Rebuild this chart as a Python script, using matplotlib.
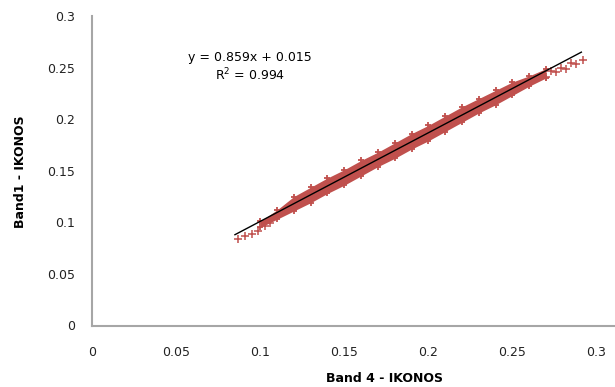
import numpy as np
import matplotlib
matplotlib.use('Agg')
import matplotlib.pyplot as plt

# band edges (Band 4 vs Band 1)
band_x = [0.100, 0.110, 0.120, 0.130, 0.140, 0.150, 0.160, 0.170, 0.180, 0.190,
          0.200, 0.210, 0.220, 0.230, 0.240, 0.250, 0.260, 0.270]
band_lo = [0.095, 0.103, 0.111, 0.119, 0.128, 0.136, 0.145, 0.154, 0.162, 0.171,
           0.179, 0.188, 0.197, 0.206, 0.214, 0.223, 0.232, 0.240]
band_hi = [0.101, 0.112, 0.125, 0.134, 0.143, 0.151, 0.160, 0.168, 0.177, 0.186,
           0.194, 0.203, 0.212, 0.220, 0.228, 0.236, 0.242, 0.249]

# isolated points at both ends
sparse_x = [0.087, 0.091, 0.095, 0.099, 0.103, 0.106, 0.270, 0.273, 0.276, 0.279,
            0.282, 0.285, 0.288, 0.292]
sparse_y = [0.084, 0.087, 0.089, 0.092, 0.096, 0.099, 0.241, 0.247, 0.246, 0.250,
            0.249, 0.254, 0.253, 0.257]

slope, intercept, r2 = 0.859, 0.015, 0.994
line_x = [0.085, 0.291]

red = '#c0504d'

fig = plt.figure(figsize=(6.15, 3.87), dpi=100)
ax = fig.add_axes([92 / 615, 61.5 / 387, 523 / 615, 309.5 / 387])

ax.fill_between(band_x, band_lo, band_hi, color=red, lw=0)
ax.scatter(band_x + band_x, band_lo + band_hi, marker='+', s=22, color=red, linewidths=1.3)
ax.scatter(sparse_x, sparse_y, marker='+', s=30, color=red, linewidths=1.1)
ax.plot(line_x, [slope * v + intercept for v in line_x], color='black', lw=1)

ax.text(0.094, 0.260, 'y = 0.859x + 0.015', ha='center', va='center', fontsize=9)
ax.text(0.094, 0.243, 'R$^2$ = 0.994', ha='center', va='center', fontsize=9)

ax.set_xlim(0, 0.311)
ax.set_ylim(0, 0.3)
ax.set_xticks([0, 0.05, 0.1, 0.15, 0.2, 0.25, 0.3])
ax.set_xticklabels(['0', '0.05', '0.1', '0.15', '0.2', '0.25', '0.3'])
ax.set_yticks([0, 0.05, 0.1, 0.15, 0.2, 0.25, 0.3])
ax.set_yticklabels(['0', '0.05', '0.1', '0.15', '0.2', '0.25', '0.3'])
ax.tick_params(length=0, labelsize=9, colors='#222222')
ax.tick_params(axis='y', pad=12)
ax.tick_params(axis='x', pad=15)
for s in ['top', 'right']:
    ax.spines[s].set_visible(False)
for s in ['left', 'bottom']:
    ax.spines[s].set_color('#a6a6a6')
    ax.spines[s].set_linewidth(1.5)

fig.text(384 / 615, 1 - 378 / 387, 'Band 4 - IKONOS', ha='center', va='center',
         fontsize=9, fontweight='bold')
fig.text(20 / 615, 1 - 172 / 387, 'Band1 - IKONOS', ha='center', va='center',
         rotation=90, fontsize=9, fontweight='bold')

fig.savefig('out.png', dpi=100)
